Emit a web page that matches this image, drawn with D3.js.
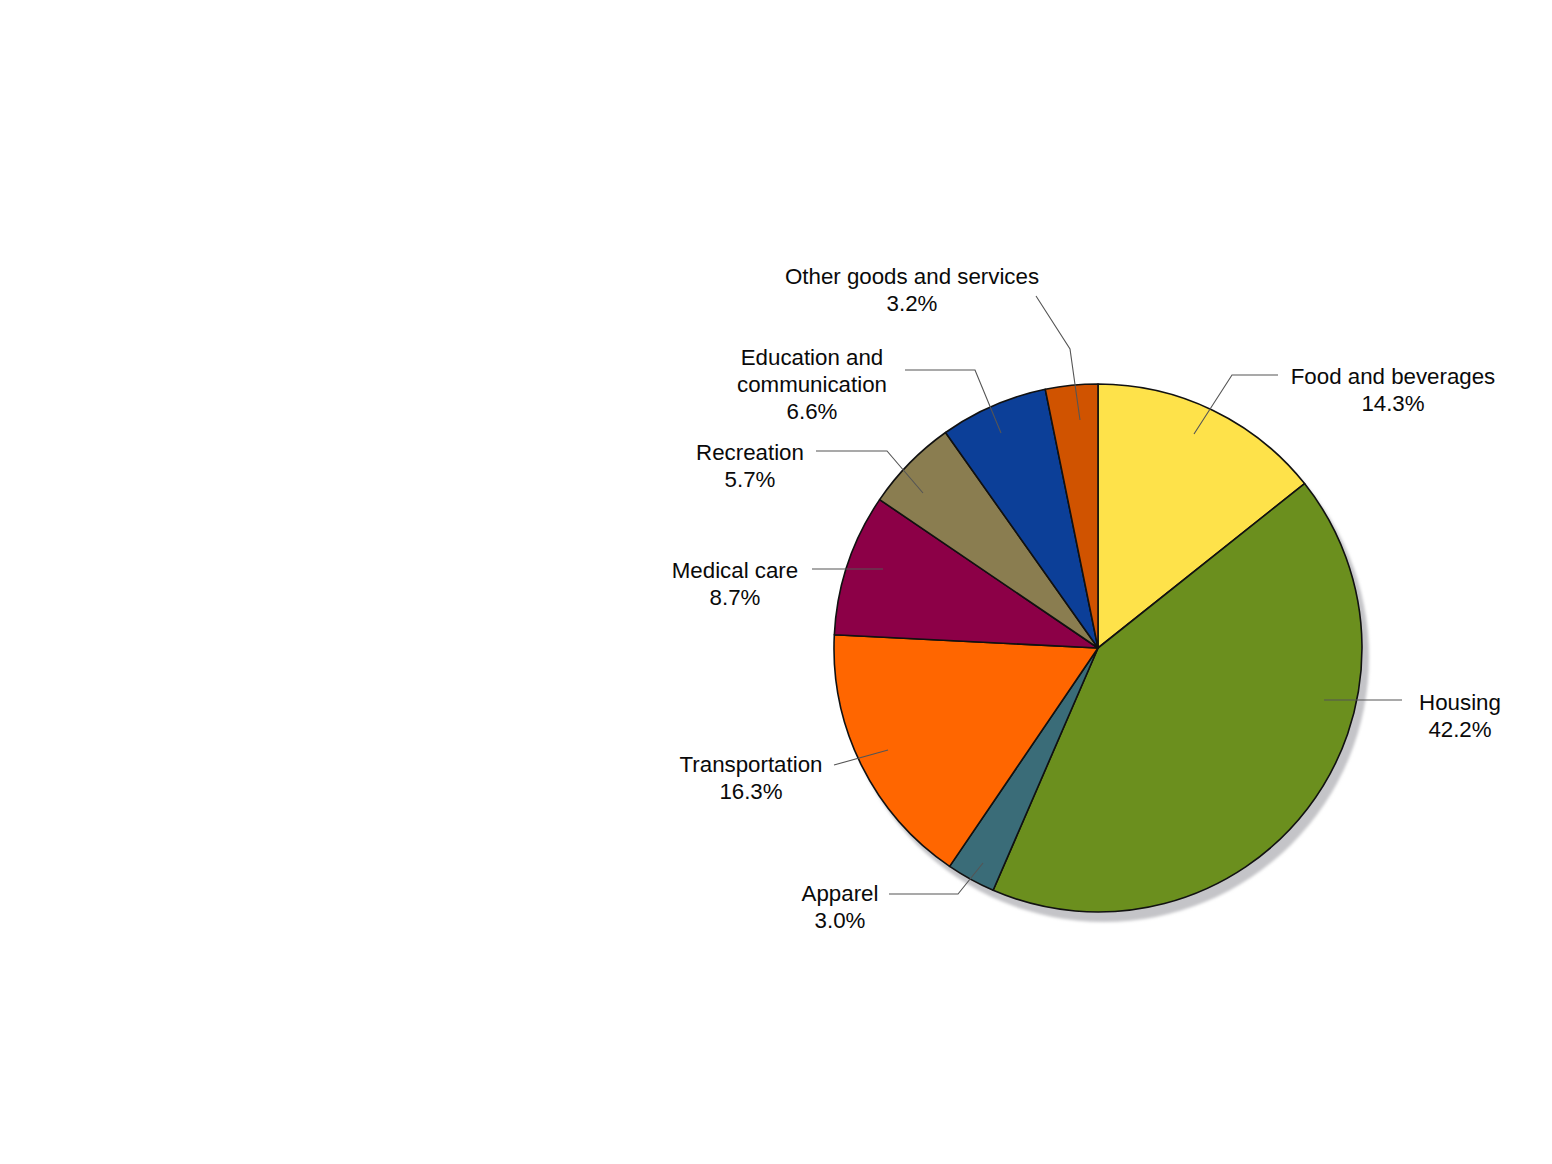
<!DOCTYPE html>
<html>
<head>
<meta charset="utf-8">
<script src="https://cdn.jsdelivr.net/npm/d3@7"></script>
<style>
html,body{margin:0;padding:0;background:#fff;}
svg{display:block;}
text{font-family:"Liberation Sans",Arial,Helvetica,sans-serif;fill:#0a0a0a;}
</style>
</head>
<body>
<svg id="chart" width="1552" height="1164"></svg>
<script>
const categories = ["Food and beverages","Housing","Apparel","Transportation","Medical care","Recreation","Education and communication","Other goods and services"];
const values = [14.3, 42.2, 3.0, 16.3, 8.7, 5.7, 6.6, 3.2];
const labelLines = [["Food and beverages"],["Housing"],["Apparel"],["Transportation"],["Medical care"],["Recreation"],["Education and","communication"],["Other goods and services"]];
const colors = ["#FEE24A","#6B8F1E","#3A6C78","#FF6600","#8C0047","#8A7D50","#0C3F98","#D05300"];

// layout (positions of label text and leader line elbows)
const cx = 1098, cy = 648, R = 264;
const labelLayout = [
  {tx:1393, ty:376, pts:[[1194,434],[1232,375],[1278,375]]},
  {tx:1460, ty:702, pts:[[1324,700],[1402,700]]},
  {tx:840,  ty:893, pts:[[983,863],[958,894],[889,894]]},
  {tx:751,  ty:764, pts:[[888,750],[834,765]]},
  {tx:735,  ty:570, pts:[[883,569],[812,569]]},
  {tx:750,  ty:452, pts:[[923,493],[887,451],[816,451]]},
  {tx:812,  ty:357, pts:[[1001,433],[975,370],[905,370]]},
  {tx:912,  ty:276, pts:[[1080,420],[1070,349],[1036,296]]}
];

const svg = d3.select("#chart");
const defs = svg.append("defs");
const f = defs.append("filter").attr("id","blur").attr("x","-10%").attr("y","-10%").attr("width","120%").attr("height","120%");
f.append("feGaussianBlur").attr("stdDeviation",1.6);

const data = categories.map((c,i)=>({name:c, value:values[i], color:colors[i], lines:labelLines[i], lay:labelLayout[i]}));

const pie = d3.pie().value(d=>d.value).sort(null);
const arc = d3.arc().innerRadius(0).outerRadius(R);
const arcs = pie(data);

// shadow
svg.append("circle").attr("cx",cx+6).attr("cy",cy+9).attr("r",R+1)
  .attr("fill","#c4c4c8").attr("filter","url(#blur)");

const g = svg.append("g").attr("transform",`translate(${cx},${cy})`);
g.selectAll("path.slice").data(arcs).join("path")
  .attr("class","slice")
  .attr("d",arc)
  .attr("fill",d=>d.data.color)
  .attr("stroke","#111")
  .attr("stroke-width",1.6)
  .attr("stroke-linejoin","round");

// leader lines
const line = d3.line();
svg.selectAll("path.leader").data(data).join("path")
  .attr("class","leader")
  .attr("d",d=>line(d.lay.pts))
  .attr("fill","none")
  .attr("stroke","#555")
  .attr("stroke-width",1.1);

// labels
const fs = 22.3, lh = 27;
data.forEach(d=>{
  const t = svg.append("text").attr("text-anchor","middle").attr("font-size",fs);
  const allLines = d.lines.concat([d.value.toFixed(1)+"%"]);
  allLines.forEach((s,i)=>{
    t.append("tspan").attr("x",d.lay.tx).attr("y",d.lay.ty + i*lh).attr("dy","0.35em").text(s);
  });
});
</script>
</body>
</html>
